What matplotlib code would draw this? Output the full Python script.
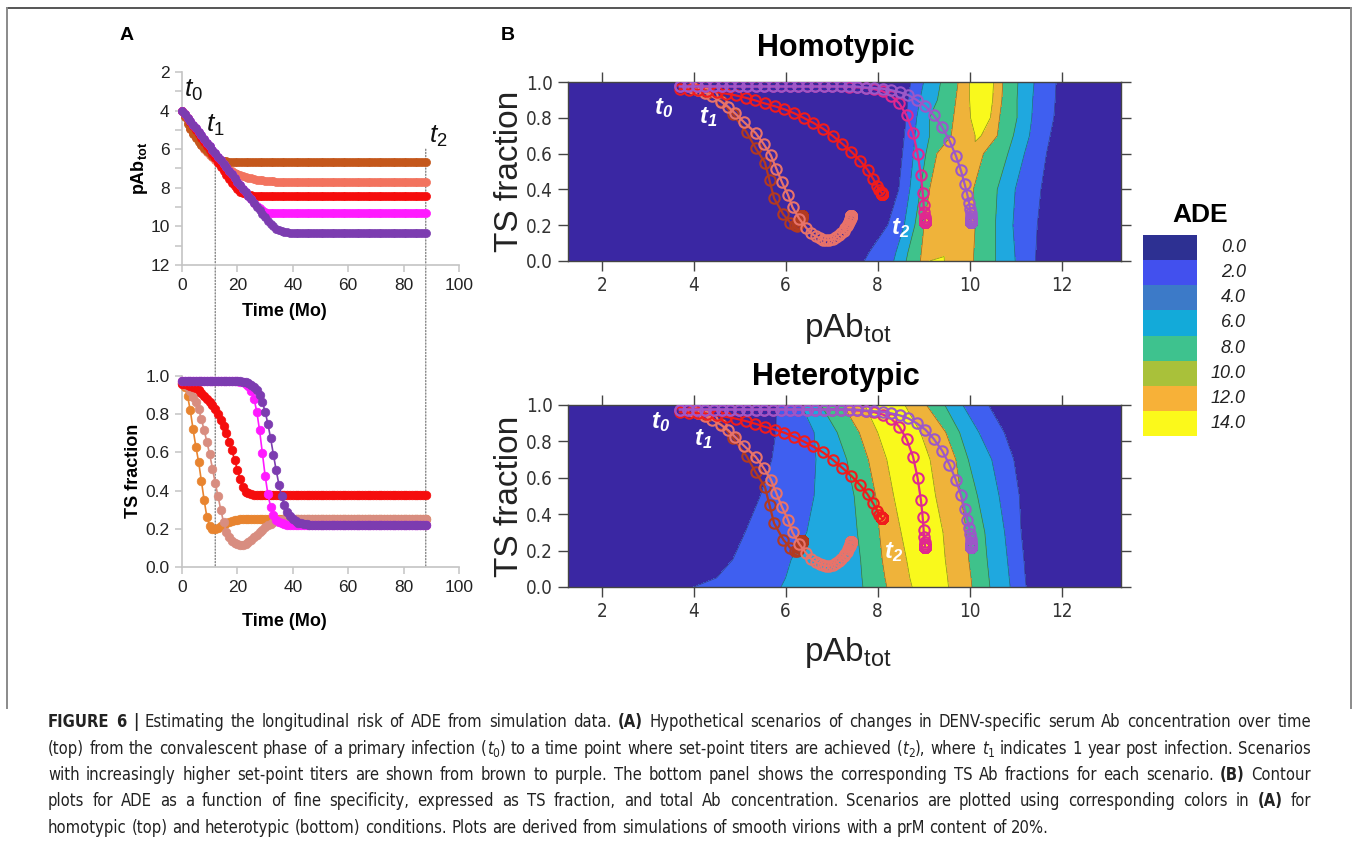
import os
import re
import numpy as np
import matplotlib
matplotlib.use("Agg")
import matplotlib.pyplot as plt
from matplotlib import font_manager as fm
from matplotlib.font_manager import FontProperties
from matplotlib.patches import ConnectionPatch
from matplotlib.lines import Line2D
from matplotlib.transforms import IdentityTransform
from matplotlib.ticker import MultipleLocator

plt.rcParams['font.family'] = ['Liberation Sans', 'DejaVu Sans']
plt.rcParams['mathtext.fontset'] = 'custom'
plt.rcParams['mathtext.rm'] = 'Liberation Sans'
plt.rcParams['mathtext.it'] = 'Liberation Sans:italic'
plt.rcParams['mathtext.bf'] = 'Liberation Sans:bold'
plt.rcParams['mathtext.bfit'] = 'Liberation Sans:bold:italic'

# ---------- panel A: time courses (one point per month) ----------
months = list(range(89))

pab_brown = [4.00, 4.35, 4.67, 4.95, 5.20, 5.42, 5.62, 5.80, 5.96, 6.10,
             6.22, 6.33, 6.42, 6.50, 6.56, 6.60, 6.63, 6.65, 6.66, 6.67] + [6.68] * 69
pab_salmon = [4.00, 4.30, 4.60, 4.88, 5.14, 5.38, 5.60, 5.80, 5.98, 6.14,
              6.29, 6.43, 6.56, 6.68, 6.79, 6.89, 6.98, 7.06, 7.14, 7.21,
              7.27, 7.33, 7.38, 7.43, 7.47, 7.51, 7.54, 7.57, 7.59, 7.61,
              7.63, 7.64, 7.66, 7.67, 7.68, 7.69, 7.69, 7.70] + [7.70] * 51
pab_red = [4.00, 4.19, 4.39, 4.59, 4.80, 5.01, 5.22, 5.43, 5.64, 5.85,
           6.06, 6.27, 6.48, 6.69, 6.90, 7.11, 7.32, 7.53, 7.73, 7.92,
           8.08, 8.20, 8.29, 8.34, 8.37, 8.39] + [8.40] * 63
pab_magenta = [4.00, 4.18, 4.37, 4.55, 4.74, 4.92, 5.10, 5.29, 5.47, 5.66,
               5.84, 6.02, 6.21, 6.39, 6.58, 6.76, 6.94, 7.13, 7.31, 7.50,
               7.68, 7.86, 8.05, 8.23, 8.42, 8.60, 8.77, 8.93, 9.07, 9.17,
               9.24, 9.28, 9.30, 9.31, 9.32] + [9.33] * 54
pab_purple = [4.00, 4.18, 4.37, 4.55, 4.74, 4.92, 5.10, 5.29, 5.47, 5.66,
              5.84, 6.02, 6.21, 6.39, 6.58, 6.76, 6.94, 7.13, 7.31, 7.50,
              7.68, 7.86, 8.05, 8.23, 8.42, 8.60, 8.78, 8.97, 9.15, 9.34,
              9.52, 9.70, 9.86, 10.00, 10.11, 10.19, 10.25, 10.29, 10.31, 10.32,
              10.33] + [10.33] * 48

ts_brown = [0.965, 0.94, 0.895, 0.82, 0.72, 0.63, 0.55, 0.45, 0.35, 0.26,
            0.215, 0.20, 0.198, 0.205, 0.214, 0.222, 0.23, 0.236, 0.241, 0.245,
            0.248, 0.25, 0.251, 0.252] + [0.252] * 65
ts_salmon = [0.965, 0.955, 0.94, 0.92, 0.89, 0.862, 0.825, 0.775, 0.715, 0.655,
             0.59, 0.515, 0.44, 0.37, 0.30, 0.235, 0.185, 0.155, 0.138, 0.127,
             0.12, 0.116, 0.116, 0.122, 0.132, 0.143, 0.156, 0.168, 0.182, 0.195,
             0.207, 0.218, 0.227, 0.234, 0.24, 0.244, 0.247, 0.249, 0.25] + [0.25] * 50
ts_red = [0.96, 0.958, 0.955, 0.95, 0.943, 0.935, 0.925, 0.912, 0.897, 0.88,
          0.865, 0.848, 0.826, 0.80, 0.772, 0.74, 0.70, 0.655, 0.61, 0.56,
          0.51, 0.46, 0.42, 0.395, 0.385, 0.38, 0.378] + [0.377] * 62
ts_magenta = [0.975] * 20 + [0.973, 0.970, 0.967, 0.960, 0.947, 0.923, 0.881, 0.813, 0.716, 0.598,
                             0.479, 0.382, 0.314, 0.272, 0.248, 0.235, 0.228, 0.224, 0.222, 0.221] + [0.22] * 49
ts_purple = [0.975] * 21 + [0.974, 0.969, 0.966, 0.962, 0.954, 0.943, 0.926, 0.90, 0.864, 0.814,
                            0.75, 0.673, 0.589, 0.506, 0.431, 0.37, 0.323, 0.289, 0.266, 0.25,
                            0.239, 0.232, 0.228, 0.225, 0.223, 0.222, 0.221] + [0.22] * 41

# ---------- panel B trajectories: pAb as drawn in panel B ----------
# brown and salmon, the others sit 0.3 left of panel A
pab_brown_b = [3.98, 4.30, 4.60, 4.85, 5.15, 5.35, 5.55, 5.65, 5.75, 5.95,
               6.10, 6.20, 6.25, 6.28, 6.30, 6.32, 6.33, 6.34, 6.35, 6.35] + [6.35] * 69
pab_salmon_b = [3.98, 4.10, 4.25, 4.40, 4.60, 4.75, 4.90, 5.10, 5.35, 5.52,
                5.68, 5.80, 5.92, 6.05, 6.15, 6.30, 6.45, 6.55, 6.65, 6.75,
                6.82, 6.88, 6.95, 7.03, 7.10, 7.16, 7.21, 7.26, 7.30, 7.33,
                7.36, 7.38, 7.40, 7.41, 7.42, 7.42, 7.43, 7.43, 7.43] + [7.43] * 50
pab_shift_b = -0.3

# ---------- panel B: ADE contour lines, x position of each level per row ----------
ade_levels = [0, 2, 4, 6, 8, 10, 12]
hom_y = [0.0, 0.05, 0.2, 0.4, 0.6, 0.7, 0.8, 0.9, 1.0]
hom_x = [
    [1.0, 7.71, 8.35, 8.62, 8.93, 9.13, 9.29, 9.45, 10.08, 10.56, 10.99, 11.43, 14.0],
    [1.0, 7.82, 8.40, 8.66, 8.95, 9.30, 9.60, 9.90, 10.09, 10.56, 10.98, 11.44, 14.0],
    [1.0, 8.22, 8.58, 8.81, 9.01, 9.30, 9.60, 9.90, 10.12, 10.56, 10.94, 11.47, 14.0],
    [1.0, 8.46, 8.70, 8.93, 9.13, 9.40, 9.70, 9.90, 10.08, 10.60, 10.99, 11.55, 14.0],
    [1.0, 8.54, 8.78, 9.05, 9.29, 9.60, 10.00, 10.15, 10.30, 10.83, 11.19, 11.67, 14.0],
    [1.0, 8.58, 8.81, 9.13, 9.60, 10.12, 10.18, 10.25, 10.60, 10.95, 11.30, 11.75, 14.0],
    [1.0, 8.62, 8.85, 9.13, 9.65, 10.02, 10.25, 10.45, 10.65, 11.03, 11.35, 11.83, 14.0],
    [1.0, 8.66, 8.92, 9.30, 9.70, 10.00, 10.26, 10.50, 10.70, 11.03, 11.37, 11.86, 14.0],
    [1.0, 8.72, 9.00, 9.37, 9.75, 10.00, 10.26, 10.52, 10.72, 11.05, 11.40, 11.88, 14.0],
]
hom_z = [
    [0, 2, 4, 6, 8, 10, 11, 10, 8, 6, 4, 2, 0],
    [0, 2, 4, 6, 8, 9, 9, 9, 8, 6, 4, 2, 0],
    [0, 2, 4, 6, 8, 9, 9, 9, 8, 6, 4, 2, 0],
    [0, 2, 4, 6, 8, 9, 9, 9, 8, 6, 4, 2, 0],
    [0, 2, 4, 6, 8, 9, 9, 9, 8, 6, 4, 2, 0],
    [0, 2, 4, 6, 8, 10, 10.5, 10, 8, 6, 4, 2, 0],
    [0, 2, 4, 6, 8, 10, 11, 10, 8, 6, 4, 2, 0],
    [0, 2, 4, 6, 8, 10, 11, 10, 8, 6, 4, 2, 0],
    [0, 2, 4, 6, 8, 10, 11, 10, 8, 6, 4, 2, 0],
]
het_y = [0.0, 0.05, 0.15, 0.3, 0.5, 0.7, 0.85, 1.0]
het_x = [
    [1.0, 4.00, 5.90, 7.68, 8.20, 8.75, 9.15, 9.54, 10.05, 10.44, 10.88, 11.23, 14.0],
    [1.0, 4.50, 6.00, 7.66, 8.16, 8.70, 9.11, 9.52, 10.03, 10.42, 10.86, 11.21, 14.0],
    [1.0, 4.85, 6.12, 7.63, 8.10, 8.63, 9.05, 9.47, 9.98, 10.38, 10.82, 11.18, 14.0],
    [1.0, 5.12, 6.46, 7.56, 8.04, 8.51, 8.96, 9.42, 9.93, 10.33, 10.76, 11.12, 14.0],
    [1.0, 5.45, 6.62, 7.49, 7.96, 8.35, 8.80, 9.26, 9.81, 10.17, 10.64, 11.08, 14.0],
    [1.0, 5.70, 6.66, 7.33, 7.80, 8.20, 8.67, 9.14, 9.70, 9.97, 10.48, 10.96, 14.0],
    [1.0, 5.79, 6.62, 7.12, 7.60, 8.00, 8.46, 8.93, 9.48, 9.78, 10.20, 10.75, 14.0],
    [1.0, 5.80, 6.34, 6.77, 7.25, 7.72, 8.15, 8.59, 9.06, 9.46, 9.85, 10.41, 14.0],
]
het_z = [[0, 2, 4, 6, 8, 10, 11, 10, 8, 6, 4, 2, 0]] * 8

band_colors = ['#3a27a3', '#3f5ff0', '#1fa8df', '#3fc28b', '#efb33a', '#f9f91c']
legend_labels = ['0.0', '2.0', '4.0', '6.0', '8.0', '10.0', '12.0', '14.0']
legend_colors = ['#2d3092', '#4250ee', '#3c7ac8', '#13aad9', '#3ec28e', '#a9c13a', '#f7b138', '#fbf91b']

a_top_colors = ['#c4571b', '#f2735e', '#f50d0d', '#ff1aff', '#7c3cb0']
a_bot_colors = ['#e8842f', '#d88d80', '#f50d0d', '#ff1aff', '#7c3cb0']
b_colors = ['#b23a20', '#e8736a', '#f01c1c', '#e0288f', '#9c58c8']


# condensed font for the caption and panel B ticks, if one is installed
def find_font(*names):
    for n in names:
        for f in fm.fontManager.ttflist:
            if os.path.basename(f.fname).lower() == n.lower():
                return f.fname
    return None


narrow_files = {
    'n': find_font('LiberationSansNarrow-Regular.ttf', 'DejaVuSansCondensed.ttf'),
    'b': find_font('LiberationSansNarrow-Bold.ttf', 'DejaVuSansCondensed-Bold.ttf'),
    'i': find_font('LiberationSansNarrow-Italic.ttf', 'DejaVuSansCondensed-Oblique.ttf'),
}


def narrow_fp(st, size):
    key = 'n' if st == 's' else st
    if narrow_files.get(key):
        return FontProperties(fname=narrow_files[key], size=size)
    return FontProperties(family='Liberation Sans', size=size,
                          weight='bold' if st == 'b' else 'normal',
                          style='italic' if st == 'i' else 'normal')


W, H = 1358, 843
fig = plt.figure(figsize=(W / 100, H / 100), dpi=100)


def ax_px(l, t, r, b):
    return fig.add_axes([l / W, 1 - b / H, (r - l) / W, (b - t) / H])


def ftext(x, y, s, **kw):
    return fig.text(x / W, 1 - y / H, s, **kw)


pab_all = [pab_brown, pab_salmon, pab_red, pab_magenta, pab_purple]
ts_all = [ts_brown, ts_salmon, ts_red, ts_magenta, ts_purple]
pab_b_all = [pab_brown_b, pab_salmon_b] + [[v + pab_shift_b for v in p] for p in pab_all[2:]]

# ---------- panel A ----------
axA1 = ax_px(182, 72, 459, 265)
axA2 = ax_px(182, 376, 459, 567)
for ax in (axA1, axA2):
    ax.set_facecolor('none')
    ax.set_xlim(0, 100)
    ax.set_xticks([0, 20, 40, 60, 80, 100])
    for s in ('top', 'right'):
        ax.spines[s].set_visible(False)
    for s in ('left', 'bottom'):
        ax.spines[s].set_color('#c4c4c4')
        ax.spines[s].set_linewidth(1.2)
    ax.tick_params(which='both', direction='out', length=5, width=1.1, color='#c4c4c4',
                   labelsize=12.5, labelcolor='#222222', pad=4)

axA1.set_ylim(12, 2)
axA1.set_yticks([2, 4, 6, 8, 10, 12])
axA1.yaxis.set_minor_locator(MultipleLocator(1))
for i in [1, 0, 2, 3, 4]:
    axA1.plot(months, pab_all[i], '-o', color=a_top_colors[i], lw=1, ms=5.8,
              mec=a_top_colors[i], mew=0.5, clip_on=False, zorder=3)

axA2.set_ylim(0, 1)
axA2.set_yticks([0, 0.2, 0.4, 0.6, 0.8, 1.0])
axA2.set_yticklabels(['0.0', '0.2', '0.4', '0.6', '0.8', '1.0'])
for i in [0, 1, 2, 3, 4]:
    axA2.plot(months, ts_all[i], '-o', color=a_bot_colors[i], lw=1.2, ms=6.2,
              mec=a_bot_colors[i], mew=0.5, clip_on=False, zorder=3)

axA1.text(0.6, 3.3, r'$\mathit{t_0}$', fontsize=19, color='#111111')
axA1.text(8.8, 5.1, r'$\mathit{t_1}$', fontsize=19, color='#111111')
axA1.text(89.0, 5.65, r'$\mathit{t_2}$', fontsize=19, color='#111111')

for tx, y0 in [(12, 6.8), (88, 6.0)]:
    con = ConnectionPatch(xyA=(tx, y0), coordsA=axA1.transData, xyB=(tx, 0), coordsB=axA2.transData,
                          linestyle=(0, (1, 1.5)), color='#7a7a7a', lw=0.9, zorder=-1)
    fig.add_artist(con)

ftext(140, 168, r'$\mathbf{pAb_{tot}}$', fontsize=13, rotation=90, ha='center', va='center')
ftext(284, 312, 'Time (Mo)', fontsize=13, fontweight='bold', ha='center', va='center')
ftext(133, 471, 'TS fraction', fontsize=13, fontweight='bold', rotation=90, ha='center', va='center')
ftext(284, 622, 'Time (Mo)', fontsize=13, fontweight='bold', ha='center', va='center')

# ---------- panel B ----------
axB1 = ax_px(568, 82, 1121, 261)
axB2 = ax_px(568, 405, 1121, 587)
for ax, gy, gx, gz, title, ty, tlab in [
        (axB1, hom_y, hom_x, hom_z, 'Homotypic', 48,
         [(3.15, 0.82, 0), (4.12, 0.77, 1), (8.30, 0.15, 2)]),
        (axB2, het_y, het_x, het_z, 'Heterotypic', 377,
         [(3.08, 0.875, 0), (4.00, 0.78, 1), (8.14, 0.16, 2)])]:
    X = np.array(gx)
    Y = np.repeat(np.array(gy)[:, None], X.shape[1], axis=1)
    Z = np.array(gz, dtype=float)
    ax.contourf(X, Y, Z, levels=ade_levels, colors=band_colors, zorder=1)
    ax.contour(X, Y, Z, levels=ade_levels[1:-1], colors='#2a2a2a', linewidths=0.5, alpha=0.55, zorder=2)
    for i in range(5):
        ax.plot(pab_b_all[i], ts_all[i], '-o', color=b_colors[i], lw=1.6, ms=7.5, mfc='none',
                mec=b_colors[i], mew=1.5, zorder=4)
    for x, y, k in tlab:
        ax.text(x, y, r'$\mathbfit{t_%d}$' % k, fontsize=17, color='white', zorder=5)
    ax.set_xlim(1.27, 13.29)
    ax.set_ylim(0, 1)
    ax.set_xticks([2, 4, 6, 8, 10, 12])
    ax.set_yticks([0, 0.2, 0.4, 0.6, 0.8, 1.0])
    ax.set_yticklabels(['0.0', '0.2', '0.4', '0.6', '0.8', '1.0'])
    ax.tick_params(direction='out', length=7, width=1.0, color='#444444', top=True, right=True,
                   labelsize=13, labelcolor='#333333', pad=4)
    for lab in ax.get_xticklabels() + ax.get_yticklabels():
        lab.set_fontproperties(narrow_fp('n', 13.5))
    for s in ax.spines.values():
        s.set_color('#444444')
        s.set_linewidth(1.0)
    ftext(836, ty, title, fontsize=22, fontweight='bold', ha='center', va='center')

ftext(510, 171, 'TS fraction', fontsize=24, rotation=90, ha='center', va='center', color='#222222')
ftext(510, 496, 'TS fraction', fontsize=24, rotation=90, ha='center', va='center', color='#222222')
ftext(848, 328, r'$\mathrm{pAb_{tot}}$', fontsize=24, ha='center', va='center', color='#222222')
ftext(848, 652, r'$\mathrm{pAb_{tot}}$', fontsize=24, ha='center', va='center', color='#222222')

# ADE legend
axL = ax_px(1143, 235, 1197, 436)
axL.bar([0.5] * 8, [1] * 8, width=1, bottom=list(range(8)), color=legend_colors)
axL.set_xlim(0, 1)
axL.set_ylim(8, 0)
axL.axis('off')
for i, lab in enumerate(legend_labels):
    axL.text(1 + 49 / 54, i + 0.5, lab, ha='right', va='center', fontsize=13, fontstyle='italic', color='#222222')
ftext(1200, 215, 'ADE', fontsize=19, fontweight='bold', ha='center', va='center')

ftext(127, 36, 'A', fontsize=14, fontweight='bold', ha='center', va='center')
ftext(508, 36, 'B', fontsize=14, fontweight='bold', ha='center', va='center')

# frame round the figure area (open at the bottom, above the caption)
for xs, ys, col in [([7, 1351], [8, 8], '#555555'), ([7, 7], [8, 708], '#8a8a8a'),
                    ([1351, 1351], [8, 708], '#8a8a8a')]:
    fig.add_artist(Line2D([x / W for x in xs], [1 - y / H for y in ys], color=col, lw=1.4))

# ---------- caption ----------
cap_lines = [
    [('FIGURE 6 |', 'b'), (' Estimating the longitudinal risk of ADE from simulation data. ', 'n'), ('(A)', 'b'),
     (' Hypothetical scenarios of changes in DENV-specific serum Ab concentration over time', 'n')],
    [('(top) from the convalescent phase of a primary infection (', 'n'), ('t', 'i'), ('0', 's'),
     (') to a time point where set-point titers are achieved (', 'n'), ('t', 'i'), ('2', 's'),
     ('), where ', 'n'), ('t', 'i'), ('1', 's'), (' indicates 1 year post infection. Scenarios', 'n')],
    [('with increasingly higher set-point titers are shown from brown to purple. The bottom panel shows the '
      'corresponding TS Ab fractions for each scenario. ', 'n'), ('(B)', 'b'), (' Contour', 'n')],
    [('plots for ADE as a function of fine specificity, expressed as TS fraction, and total Ab concentration. '
      'Scenarios are plotted using corresponding colors in ', 'n'), ('(A)', 'b'), (' for', 'n')],
    [('homotypic (top) and heterotypic (bottom) conditions. Plots are derived from simulations of smooth '
      'virions with a prM content of 20%.', 'n')],
]
cap_base = [727, 753.5, 780, 806.5, 833]
x_left, x_right = 48, 1311
renderer = fig.canvas.get_renderer()


def cap_piece(s, st, fs):
    fp = narrow_fp(st, fs * 0.72 if st == 's' else fs)
    return fig.text(0, 0, s, fontproperties=fp, color='#222222', va='baseline', ha='left',
                    transform=IdentityTransform())


def build_caption(fs):
    p1, p2 = cap_piece('n n', 'n', fs), cap_piece('nn', 'n', fs)
    sp = p1.get_window_extent(renderer).width - p2.get_window_extent(renderer).width
    p1.remove()
    p2.remove()
    rows = []
    for runs in cap_lines:
        items = []
        for s, st in runs:
            for piece in re.split(r'( )', s):
                if piece == ' ':
                    items.append(None)
                elif piece:
                    t = cap_piece(piece, st, fs)
                    items.append((t, st, t.get_window_extent(renderer).width))
        rows.append(items)
    return sp, rows


def natural_width(items, sp):
    return sum(sp if it is None else it[2] for it in items)


# pick the size at which the fullest line just fills the text block
sp, rows = build_caption(11.5)
widest = max(natural_width(r, sp) for r in rows[:4])
for r in rows:
    for it in r:
        if it is not None:
            it[0].remove()
cap_fs = 11.5 * (x_right - x_left) / widest * 0.985
sp, rows = build_caption(cap_fs)

for k, items in enumerate(rows):
    words_w = sum(it[2] for it in items if it is not None)
    n_sp = sum(1 for it in items if it is None)
    gap = sp
    if k < 4 and n_sp:
        gap = (x_right - x_left - words_w) / n_sp
    x = x_left
    yb = H - cap_base[k]
    for it in items:
        if it is None:
            x += gap
            continue
        t, st, w = it
        t.set_position((x, yb - (0.3 * cap_fs if st == 's' else 0)))
        x += w

fig.savefig('out.png', dpi=100)
